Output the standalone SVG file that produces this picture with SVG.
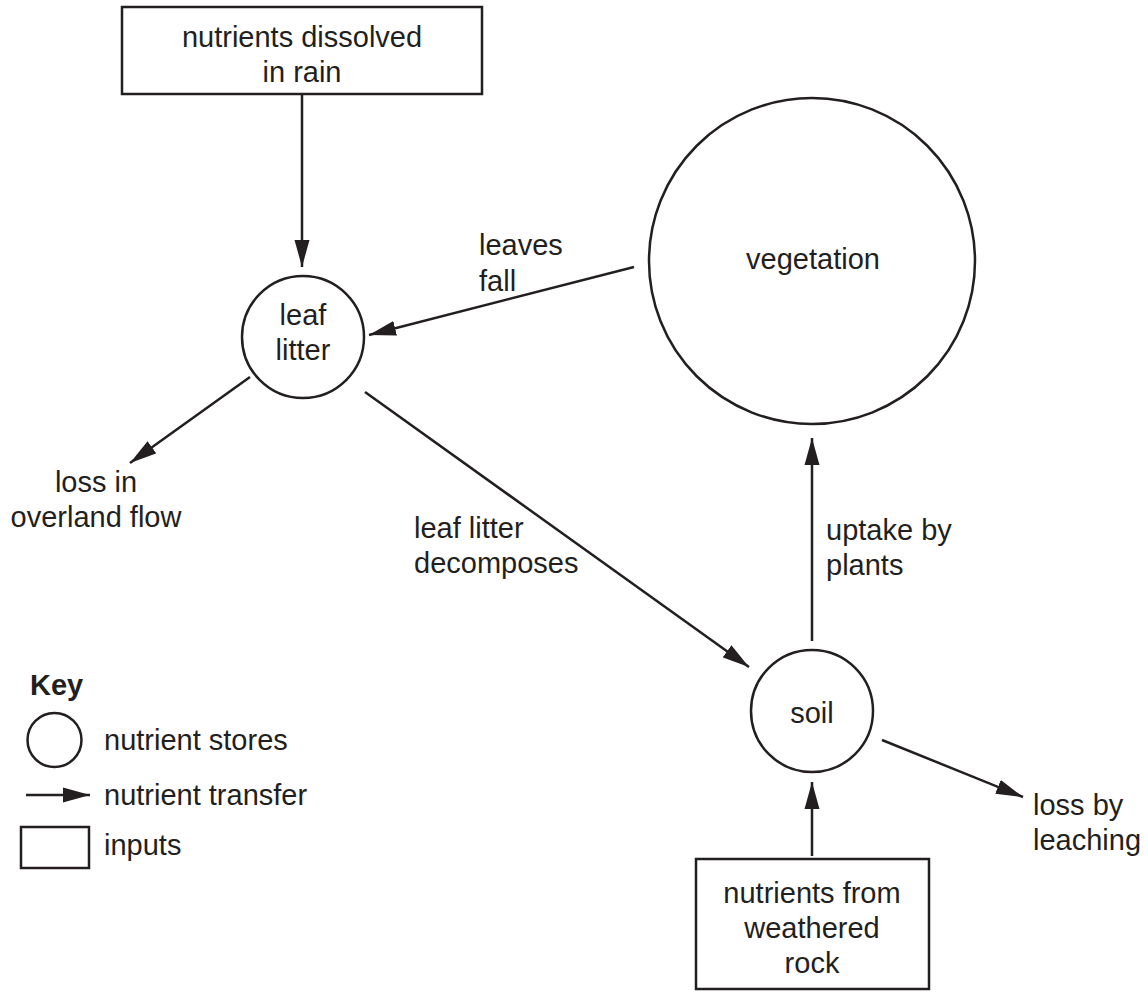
<svg xmlns="http://www.w3.org/2000/svg" width="1148" height="994" viewBox="0 0 1148 994">
<style>
.s{fill:none;stroke:#231f20;stroke-width:2.5}
.b{fill:#fff;stroke:#231f20;stroke-width:2.5}
.c{stroke:#231f20;stroke-width:2.5;fill:none;marker-end:url(#ah)}
text{font-family:"Liberation Sans",Arial,Helvetica,sans-serif;font-size:29px;fill:#231f20}
.m{text-anchor:middle}
</style>
<defs>
<marker id="ah" markerUnits="userSpaceOnUse" markerWidth="28" markerHeight="16" viewBox="0 0 28 16" refX="27" refY="8" orient="auto">
<path d="M0,0.5 L27,8 L0,15.5 z" fill="#231f20"/>
</marker>
</defs>
<rect width="1148" height="994" fill="#fff"/>
<g id="connectors">
<line class="c" x1="302" y1="94" x2="302" y2="267"/>
<line class="c" x1="634" y1="267" x2="369" y2="335"/>
<line class="c" x1="250" y1="377" x2="130" y2="463"/>
<line class="c" x1="365" y1="392" x2="749" y2="667"/>
<line class="c" x1="812" y1="641" x2="812" y2="438"/>
<line class="c" x1="882" y1="740" x2="1023" y2="797"/>
<line class="c" x1="812" y1="856" x2="812" y2="782"/>
</g>
<g id="rain">
<rect class="b" x="122" y="7" width="360" height="87"/>
<text class="m" x="302" y="47">nutrients dissolved</text>
<text class="m" x="302" y="82">in rain</text>
</g>
<g id="leaf-litter">
<circle class="b" cx="303" cy="337" r="61"/>
<text class="m" x="303" y="325">leaf</text>
<text class="m" x="303" y="360">litter</text>
</g>
<g id="vegetation">
<circle class="b" cx="812" cy="261" r="163"/>
<text class="m" x="813" y="269">vegetation</text>
</g>
<g id="soil">
<circle class="b" cx="812" cy="711" r="61"/>
<text class="m" x="812" y="723">soil</text>
</g>
<g id="rock">
<rect class="b" x="696" y="859" width="233" height="130"/>
<text class="m" x="812" y="903">nutrients from</text>
<text class="m" x="812" y="938">weathered</text>
<text class="m" x="812" y="973">rock</text>
</g>
<g id="labels">
<text x="479" y="255">leaves</text>
<text x="479" y="291">fall</text>
<text class="m" x="96" y="492">loss in</text>
<text class="m" x="96" y="527">overland flow</text>
<text x="414" y="538">leaf litter</text>
<text x="414" y="573">decomposes</text>
<text x="826" y="540">uptake by</text>
<text x="826" y="575">plants</text>
<text x="1033" y="815">loss by</text>
<text x="1033" y="850">leaching</text>
</g>
<g id="key">
<text x="30" y="695" style="font-weight:bold">Key</text>
<circle class="s" cx="54.5" cy="740" r="27"/>
<text x="104" y="750">nutrient stores</text>
<line class="c" x1="26" y1="795" x2="90" y2="795"/>
<text x="104" y="805">nutrient transfer</text>
<rect class="s" x="21" y="827" width="68" height="41"/>
<text x="104" y="855">inputs</text>
</g>
</svg>
